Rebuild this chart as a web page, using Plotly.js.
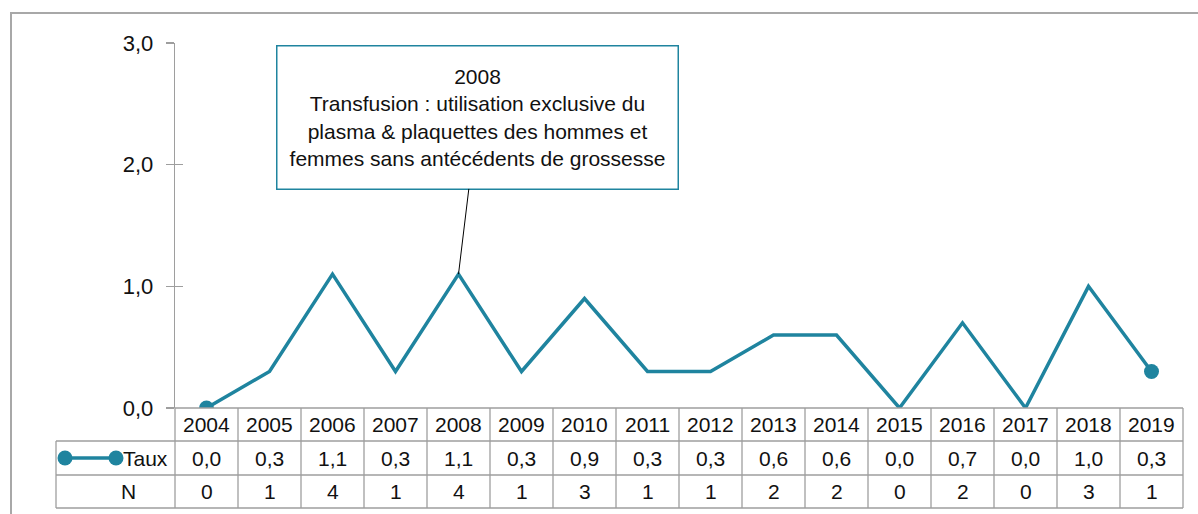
<!DOCTYPE html>
<html>
<head>
<meta charset="utf-8">
<script src="https://cdn.plot.ly/plotly-3.0.1.min.js"></script>
<style>html,body{margin:0;padding:0;background:#fff;}#chart{width:1198px;height:514px;}</style>
</head>
<body>
<div id="chart"></div>
<script>
// ---- data ----
const years = ['2004','2005','2006','2007','2008','2009','2010','2011','2012','2013','2014','2015','2016','2017','2018','2019'];
const taux = [0.0, 0.3, 1.1, 0.3, 1.1, 0.3, 0.9, 0.3, 0.3, 0.6, 0.6, 0.0, 0.7, 0.0, 1.0, 0.3];
const nCases = [0, 1, 4, 1, 4, 1, 3, 1, 1, 2, 2, 0, 2, 0, 3, 1];
const yTicks = [0, 1, 2, 3];
const seriesName = 'Taux';
const countName = 'N';
const noteYear = '2008';
const noteText = '2008<br>Transfusion : utilisation exclusive du<br>plasma & plaquettes des hommes et<br>femmes sans antécédents de grossesse';

// ---- style / layout constants ----
const W = 1198, H = 514;
const M = {l: 175, r: 15, t: 43, b: 106};
const plotW = W - M.l - M.r, plotH = H - M.t - M.b;
const teal = '#1F849F';
const gridGray = '#9E9E9E';
const font = '"Liberation Sans", Arial, Helvetica, sans-serif';
const fx = px => (px - M.l) / plotW;          // pixel x -> paper x
const fy = py => (H - M.b - py) / plotH;      // pixel y -> paper y
const fmt = v => v.toFixed(1).replace('.', ',');
const rowEdges = [408, 441, 475, 508].map(fy);
const rowMid = k => (rowEdges[k] + rowEdges[k + 1]) / 2;
const n = years.length;

const shapes = [];
const annotations = [];

// outer chart frame
shapes.push({type: 'rect', xref: 'paper', yref: 'paper', x0: fx(11), x1: 1.2, y0: -1, y1: fy(13),
  line: {color: '#A8A8A8', width: 2}, layer: 'below'});

// data table: vertical lines
for (let k = 0; k <= n; k++) {
  shapes.push({type: 'line', xref: 'x domain', yref: 'paper', x0: k / n, x1: k / n,
    y0: rowEdges[0], y1: rowEdges[3], line: {color: gridGray, width: 1.3}});
}
// horizontal lines
shapes.push({type: 'line', xref: 'paper', yref: 'paper', x0: 0, x1: 1, y0: rowEdges[0], y1: rowEdges[0], line: {color: gridGray, width: 1.3}});
for (let r = 1; r <= 3; r++) {
  shapes.push({type: 'line', xref: 'paper', yref: 'paper', x0: fx(56), x1: 1, y0: rowEdges[r], y1: rowEdges[r], line: {color: gridGray, width: 1.3}});
}
shapes.push({type: 'line', xref: 'paper', yref: 'paper', x0: fx(56), x1: fx(56), y0: rowEdges[1], y1: rowEdges[3], line: {color: gridGray, width: 1.3}});

// legend key in table
shapes.push({type: 'line', xref: 'paper', yref: 'paper', x0: fx(65), x1: fx(116), y0: rowMid(1), y1: rowMid(1), line: {color: teal, width: 3.5}});
[65, 116].forEach(p => shapes.push({type: 'circle', xref: 'paper', yref: 'paper', xsizemode: 'pixel', ysizemode: 'pixel',
  xanchor: fx(p), yanchor: rowMid(1), x0: -7.5, x1: 7.5, y0: -7.5, y1: 7.5, fillcolor: teal, line: {width: 0}}));

const cellFont = {family: font, size: 21, color: '#111'};
years.forEach((yr, i) => {
  annotations.push({xref: 'x', yref: 'paper', x: i, y: rowMid(0), text: yr, showarrow: false, font: cellFont, yanchor: 'middle'});
  annotations.push({xref: 'x', yref: 'paper', x: i, y: rowMid(1), text: fmt(taux[i]), showarrow: false, font: cellFont, yanchor: 'middle'});
  annotations.push({xref: 'x', yref: 'paper', x: i, y: rowMid(2), text: String(nCases[i]), showarrow: false, font: cellFont, yanchor: 'middle'});
});
annotations.push({xref: 'paper', yref: 'paper', x: fx(121), y: rowMid(1), text: seriesName, showarrow: false, font: cellFont, xanchor: 'left', yanchor: 'middle'});
annotations.push({xref: 'paper', yref: 'paper', x: fx(128), y: rowMid(2), text: countName, showarrow: false, font: cellFont, xanchor: 'center', yanchor: 'middle'});

// callout
const noteIdx = years.indexOf(noteYear);
annotations.push({xref: 'x', yref: 'y', x: noteIdx, y: taux[noteIdx], text: noteText,
  showarrow: true, arrowhead: 0, arrowwidth: 1, arrowcolor: '#000', ax: 19, ay: -157,
  bordercolor: teal, borderwidth: 1.5, borderpad: 4, bgcolor: '#fff', width: 392, height: 134,
  align: 'center', valign: 'middle', font: {family: font, size: 21, color: '#111'}});

const markerSizes = taux.map((v, i) => (i === 0 || i === n - 1) ? 15 : 0);

const traces = [
  {type: 'scatter', mode: 'lines+markers', x: years, y: taux, name: seriesName,
   line: {color: teal, width: 3.5}, marker: {color: teal, size: markerSizes, opacity: 1, line: {width: 0}}, hoverinfo: 'skip'},
  {type: 'scatter', mode: 'lines', x: years, y: taux, yaxis: 'y2', line: {width: 0}, showlegend: false, hoverinfo: 'skip'}
];

const layout = {
  width: W, height: H, margin: M, paper_bgcolor: '#fff', plot_bgcolor: 'rgba(0,0,0,0)',
  showlegend: false, separators: ', ',
  font: {family: font, size: 21, color: '#111'},
  xaxis: {type: 'category', range: [-0.5, n - 0.5], showticklabels: false, ticks: '', showgrid: false,
    zeroline: false, showline: false, fixedrange: true},
  yaxis: {range: [0, 3], tickvals: yTicks, tickformat: '.1f', ticks: 'outside', ticklen: 8, tickwidth: 1.3,
    tickcolor: gridGray, showline: true, linecolor: gridGray, linewidth: 1.3, showgrid: false, zeroline: false,
    tickfont: {family: font, size: 22, color: '#111'}, ticklabelstandoff: 8, fixedrange: true},
  yaxis2: {overlaying: 'y', side: 'left', anchor: 'x', range: [0, 3], tickvals: yTicks, ticks: 'inside', ticklen: 8,
    tickwidth: 1.3, tickcolor: gridGray, showticklabels: false, showline: false, showgrid: false, zeroline: false, fixedrange: true},
  shapes: shapes,
  annotations: annotations
};

Plotly.newPlot('chart', traces, layout, {displayModeBar: false, staticPlot: true});
</script>
</body>
</html>
